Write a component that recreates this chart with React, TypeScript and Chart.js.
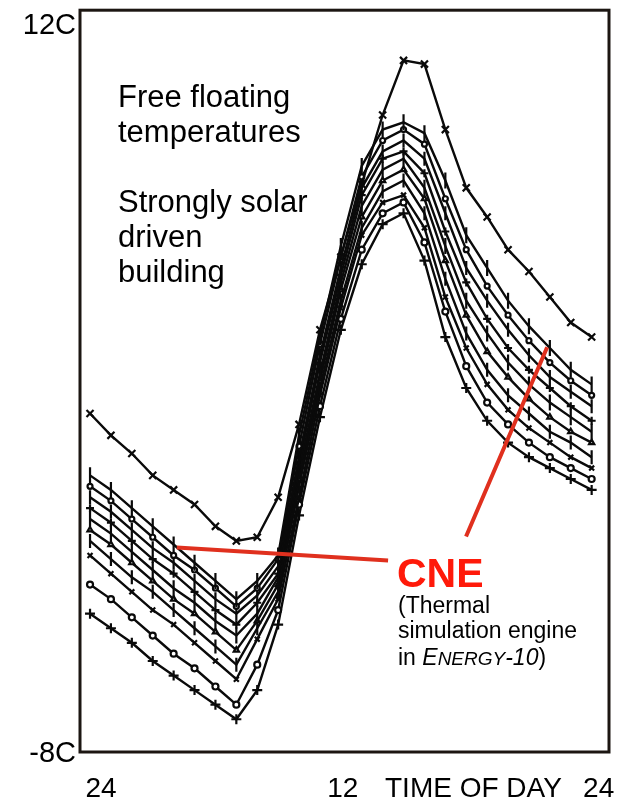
import React, { useEffect, useRef } from "react";
import { Chart, registerables } from "chart.js";

Chart.register(...registerables);

// Hour of day (0 = midnight at left, 24 = midnight at right)
const hours = [0, 1, 2, 3, 4, 5, 6, 7, 8, 9, 10, 11, 12, 13, 14, 15, 16, 17, 18, 19, 20, 21, 22, 23, 24];

// Axis tick labels
const xTickHours = [0, 12, 24];
const xTickLabels = ["24", "12", "24"];
const xAxisTitle = "TIME OF DAY";
const yTickValues = [12, -8];
const yTickLabels = ["12C", "-8C"];

// Free-floating temperatures (deg C), one curve per simulation engine
const engineA = [1.3, 0.7, 0.2, -0.4, -0.8, -1.2, -1.8, -2.2, -2.1, -1.0, 1.0, 3.6, 5.6, 7.6, 9.5, 11.0, 10.9, 9.1, 7.5, 6.7, 5.8, 5.2, 4.5, 3.8, 3.4];
const engineB = [-0.4, -0.8, -1.3, -1.8, -2.3, -2.8, -3.3, -3.8, -3.3, -2.6, 0.7, 3.4, 5.9, 8.1, 9.1, 9.3, 9.0, 7.7, 6.2, 5.3, 4.4, 3.7, 3.1, 2.5, 2.1];
const engineC = [-0.7, -1.1, -1.6, -2.1, -2.6, -3.0, -3.5, -4.0, -3.5, -2.7, 0.4, 3.2, 5.6, 7.8, 8.8, 9.1, 8.7, 7.2, 5.8, 4.8, 4.0, 3.3, 2.7, 2.2, 1.8];
const engineD = [-1.0, -1.4, -1.9, -2.4, -2.8, -3.3, -3.8, -4.2, -3.7, -2.9, 0.1, 2.9, 5.3, 7.5, 8.5, 8.8, 8.3, 6.8, 5.3, 4.4, 3.6, 2.9, 2.3, 1.9, 1.5];
const engineE = [-1.3, -1.7, -2.2, -2.7, -3.1, -3.6, -4.1, -4.5, -3.9, -3.1, -0.1, 2.7, 5.1, 7.3, 8.3, 8.5, 7.9, 6.3, 4.9, 3.9, 3.1, 2.5, 2.0, 1.5, 1.1];
const engineF = [-1.6, -2.0, -2.5, -3.0, -3.5, -3.9, -4.4, -4.8, -4.2, -3.2, -0.3, 2.4, 4.9, 7.0, 8.0, 8.3, 7.5, 5.9, 4.4, 3.5, 2.7, 2.1, 1.6, 1.2, 0.8];
const engineG = [-1.9, -2.3, -2.8, -3.3, -3.8, -4.2, -4.7, -5.2, -4.4, -3.4, -0.5, 2.2, 4.7, 6.7, 7.7, 8.0, 7.2, 5.5, 4.0, 3.0, 2.3, 1.7, 1.2, 0.8, 0.5];
const engineH = [-2.2, -2.7, -3.2, -3.6, -4.1, -4.6, -5.1, -5.6, -4.6, -3.6, -0.7, 2.0, 4.4, 6.4, 7.4, 7.7, 6.8, 5.0, 3.5, 2.5, 1.8, 1.3, 0.8, 0.5, 0.1];
const engineI = [-2.6, -3.1, -3.6, -4.1, -4.5, -5.0, -5.5, -6.0, -4.9, -3.8, -1.0, 1.8, 4.2, 6.2, 7.1, 7.3, 6.4, 4.5, 3.1, 2.1, 1.4, 0.9, 0.5, 0.1, -0.2];
const engineJ = [-3.4, -3.8, -4.3, -4.8, -5.3, -5.7, -6.2, -6.7, -5.6, -4.1, -1.2, 1.5, 3.9, 5.8, 6.8, 7.1, 6.0, 4.1, 2.6, 1.6, 1.0, 0.5, 0.1, -0.2, -0.5];
const engineK = [-4.2, -4.6, -5.0, -5.5, -5.9, -6.3, -6.7, -7.1, -6.3, -4.5, -1.5, 1.2, 3.6, 5.4, 6.5, 6.8, 5.5, 3.4, 2.0, 1.1, 0.5, 0.1, -0.2, -0.5, -0.8];

const seriesList = [engineA, engineB, engineC, engineD, engineE, engineF, engineG, engineH, engineI, engineJ, engineK];

// Marker style per curve
const markerStyles = [
  { style: "crossRot", radius: 5, rotation: 0 },
  { style: "line", radius: 8, rotation: 90 },
  { style: "circle", radius: 2.5, rotation: 0 },
  { style: "line", radius: 7, rotation: 90 },
  { style: "cross", radius: 4, rotation: 0 },
  { style: "line", radius: 8, rotation: 90 },
  { style: "triangle", radius: 3, rotation: 0 },
  { style: "line", radius: 7, rotation: 90 },
  { style: "crossRot", radius: 3.5, rotation: 0 },
  { style: "circle", radius: 3, rotation: 0 },
  { style: "cross", radius: 5, rotation: 0 },
];

const FONT = "'Liberation Sans', Arial, Helvetica, sans-serif";

const annotationPlugin = {
  id: "annotations",
  afterDraw(chart: any) {
    const ctx = chart.ctx as CanvasRenderingContext2D;
    const { left, right, top, bottom } = chart.chartArea;
    const xs = chart.scales.x;
    const ys = chart.scales.y;
    ctx.save();

    // frame
    ctx.strokeStyle = "#1c1612";
    ctx.lineWidth = 3;
    ctx.strokeRect(left, top, right - left, bottom - top);

    // red pointer lines (data coordinates)
    ctx.strokeStyle = "#e0301e";
    ctx.lineWidth = 4;
    ctx.lineCap = "butt";
    ctx.beginPath();
    ctx.moveTo(xs.getPixelForValue(4.15), ys.getPixelForValue(-2.38));
    ctx.lineTo(xs.getPixelForValue(14.26), ys.getPixelForValue(-2.74));
    ctx.moveTo(xs.getPixelForValue(21.87), ys.getPixelForValue(3.12));
    ctx.lineTo(xs.getPixelForValue(17.99), ys.getPixelForValue(-2.08));
    ctx.stroke();

    ctx.fillStyle = "#000";
    ctx.textBaseline = "alphabetic";

    // y tick labels
    ctx.font = `29px ${FONT}`;
    ctx.textAlign = "right";
    yTickValues.forEach((v, i) => {
      ctx.fillText(yTickLabels[i], left - 4, ys.getPixelForValue(v) + 10);
    });

    // x tick labels
    ctx.font = `28px ${FONT}`;
    ctx.textAlign = "center";
    const xOffsets = [11, 2, 7];
    xTickHours.forEach((h, i) => {
      ctx.fillText(xTickLabels[i], xs.getPixelForValue(h) + xOffsets[i], 797);
    });
    ctx.textAlign = "left";
    ctx.fillText(xAxisTitle, 385, 797);

    // description text
    ctx.font = `31px ${FONT}`;
    ctx.fillText("Free floating", 118, 107);
    ctx.fillText("temperatures", 118, 142);
    ctx.fillText("Strongly solar", 118, 212);
    ctx.fillText("driven", 118, 247);
    ctx.fillText("building", 118, 282);

    // CNE label
    ctx.fillStyle = "#ff1a0a";
    ctx.font = `bold 41px ${FONT}`;
    ctx.fillText("CNE", 397, 587);

    ctx.fillStyle = "#000";
    ctx.font = `23px ${FONT}`;
    ctx.fillText("(Thermal", 398, 613);
    ctx.fillText("simulation engine", 398, 638);
    let x = 398;
    const y = 665;
    const parts: [string, string][] = [
      ["in ", `23px ${FONT}`],
      ["E", `italic 23px ${FONT}`],
      ["NERGY", `italic 19px ${FONT}`],
      ["-10", `italic 23px ${FONT}`],
      [")", `23px ${FONT}`],
    ];
    parts.forEach(([t, f]) => {
      ctx.font = f;
      ctx.fillText(t, x, y);
      x += ctx.measureText(t).width;
    });

    ctx.restore();
  },
};

export default function App() {
  const ref = useRef<HTMLCanvasElement>(null);

  useEffect(() => {
    document.body.style.margin = "0";
    const canvas = ref.current;
    if (!canvas) return;
    const chart = new Chart(canvas, {
      type: "line",
      data: {
        datasets: seriesList.map((vals, i) => ({
          data: hours.map((h, j) => ({ x: h, y: vals[j] })),
          borderColor: "#0a0a0a",
          borderWidth: 2.4,
          pointStyle: markerStyles[i].style as any,
          pointRadius: markerStyles[i].radius,
          pointRotation: markerStyles[i].rotation,
          pointBorderColor: "#0a0a0a",
          pointBorderWidth: 2.2,
          pointBackgroundColor: "#fff",
          fill: false,
          tension: 0,
        })),
      },
      options: {
        responsive: false,
        animation: false,
        devicePixelRatio: 1,
        layout: { padding: { left: 80, right: 23, top: 8, bottom: 47 } },
        scales: {
          x: { type: "linear", min: -0.48, max: 24.83, display: false },
          y: { type: "linear", min: -8, max: 12.38, display: false },
        },
        plugins: {
          legend: { display: false },
          tooltip: { enabled: false },
        },
      },
      plugins: [annotationPlugin],
    });
    return () => chart.destroy();
  }, []);

  return (
    <canvas
      ref={ref}
      width={632}
      height={799}
      style={{ display: "block", width: 632, height: 799 }}
    />
  );
}
